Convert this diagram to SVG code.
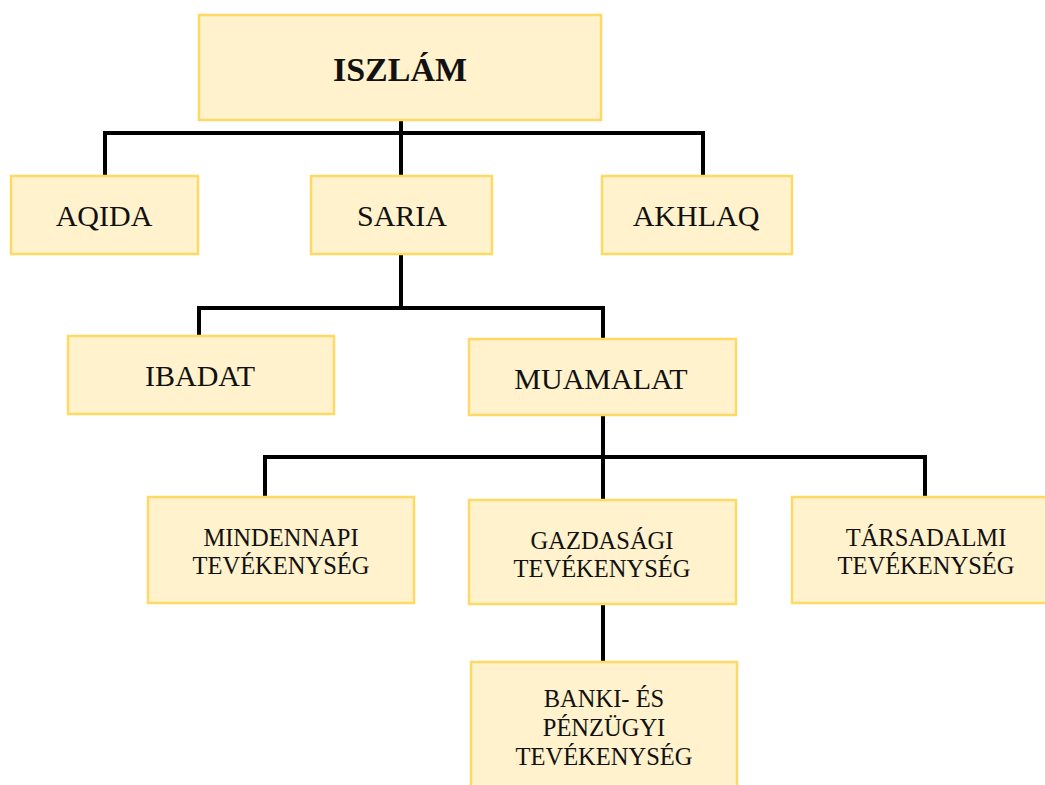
<svg xmlns="http://www.w3.org/2000/svg" width="1045" height="785" viewBox="0 0 1045 785">
<style>
.box{fill:#FFF2CC;stroke:#FFD966;stroke-width:2.5}
.t{font-family:"Liberation Serif","Times New Roman",serif;fill:#111;text-anchor:middle}
.l{font-size:30px}
.s{font-size:24.5px}
.b{font-size:34px;font-weight:bold}
.c{fill:none;stroke:#000;stroke-width:4;stroke-linejoin:miter;stroke-linecap:butt}
</style>
<rect width="1045" height="785" fill="#fff"/>
<g id="connectors">
<path class="c" d="M105,176 V133 H703 V176"/>
<path class="c" d="M401,120 V176"/>
<path class="c" d="M401,254 V308"/>
<path class="c" d="M199,336 V308 H603 V339"/>
<path class="c" d="M603,415 V500"/>
<path class="c" d="M265,497 V457 H925 V497"/>
<path class="c" d="M603,604 V662"/>
</g>
<g id="iszlam"><rect class="box" x="199" y="15" width="402" height="105"/><text class="t b" x="400" y="81">ISZLÁM</text></g>
<g id="aqida"><rect class="box" x="11" y="176" width="187" height="78"/><text class="t l" x="104" y="226">AQIDA</text></g>
<g id="saria"><rect class="box" x="311" y="176" width="181" height="78"/><text class="t l" x="402" y="226">SARIA</text></g>
<g id="akhlaq"><rect class="box" x="602" y="176" width="190" height="78"/><text class="t l" x="696" y="226">AKHLAQ</text></g>
<g id="ibadat"><rect class="box" x="68" y="336" width="266" height="78"/><text class="t l" x="200" y="386">IBADAT</text></g>
<g id="muamalat"><rect class="box" x="469" y="339" width="267" height="76"/><text class="t l" x="601" y="389">MUAMALAT</text></g>
<g id="mindennapi"><rect class="box" x="148" y="497" width="266" height="106"/><text class="t s" x="281" y="546">MINDENNAPI</text><text class="t s" x="281" y="574">TEVÉKENYSÉG</text></g>
<g id="gazdasagi"><rect class="box" x="469" y="500" width="267" height="104"/><text class="t s" x="602" y="549">GAZDASÁGI</text><text class="t s" x="602" y="577">TEVÉKENYSÉG</text></g>
<g id="tarsadalmi"><rect class="box" x="792" y="497" width="268" height="106"/><text class="t s" x="926" y="546">TÁRSADALMI</text><text class="t s" x="926" y="574">TEVÉKENYSÉG</text></g>
<g id="banki"><rect class="box" x="471" y="662" width="266" height="140"/><text class="t s" x="604" y="707">BANKI- ÉS</text><text class="t s" x="604" y="736">PÉNZÜGYI</text><text class="t s" x="604" y="765">TEVÉKENYSÉG</text></g>
</svg>
